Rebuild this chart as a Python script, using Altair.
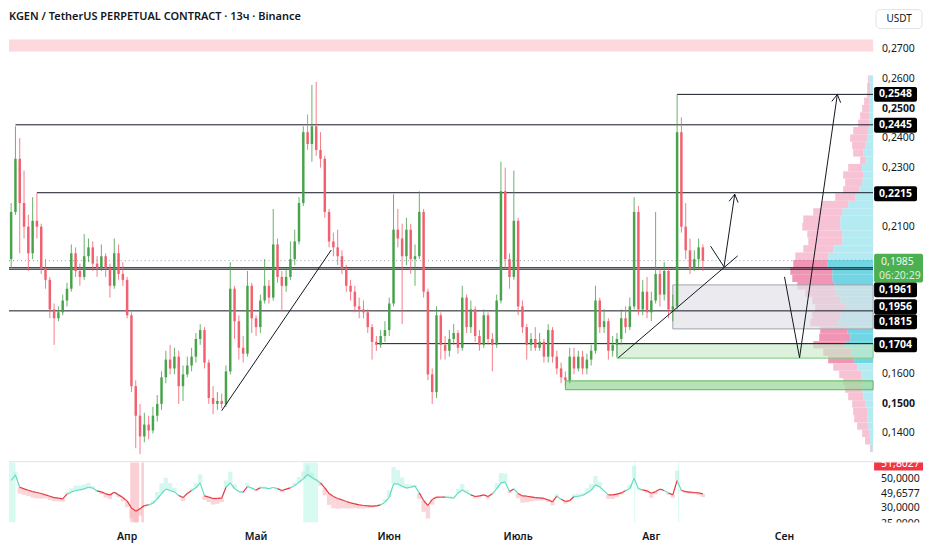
import math
import altair as alt
import pandas as pd

# ---------------------------------------------------------------- data
TITLE = "KGEN / TetherUS PERPETUAL CONTRACT · 13ч · Binance"
CURRENCY = "USDT"
REF_DATE = "2025-04-01"
FIRST_CANDLE = "2025-03-05"
FIRST_OPEN = 1990  # prices are x 10 000

CLOSE = [2150, 2330, 2180, 2100, 2010, 2120, 2100, 1960, 1920, 1820,
         1790, 1810, 1850, 1890, 2010, 1950, 1930, 2000, 2030, 1975,
         1960, 2000, 1960, 1900, 2010, 1940, 1920, 1800, 1560, 1460,
         1390, 1430, 1410, 1460, 1500, 1590, 1650, 1620, 1660, 1560,
         1600, 1630, 1660, 1720, 1750, 1640, 1520, 1500, 1510, 1500,
         1610, 1890, 1780, 1690, 1670, 1900, 1790, 1760, 1850, 1900,
         1860, 2040, 1930, 1900, 1930, 1990, 2050, 2180, 2420, 2380,
         2440, 2360, 2330, 2150, 2050, 2030, 2000, 1960, 1900, 1880,
         1830, 1820, 1810, 1760, 1710, 1700, 1730, 1750, 1840, 2090,
         2060, 2000, 2090, 1990, 2000, 2150, 1880, 1600, 1540, 1800,
         1700, 1680, 1720, 1740, 1690, 1860, 1760, 1820, 1730, 1700,
         1800, 1720, 1700, 1850, 2220, 1990, 1930, 2120, 1830, 1760,
         1700, 1720, 1690, 1710, 1660, 1750, 1660, 1620, 1590, 1580,
         1660, 1620, 1660, 1620, 1650, 1680, 1850, 1760, 1780, 1680,
         1700, 1720, 1790, 1760, 1830, 2150, 1820, 1880, 1810, 1850,
         1940, 1870, 1950, 1820, 1830, 2420, 2100, 2020, 1960, 1990,
         2030, 1985]
HIGH = [2180, 2440, 2400, 2290, 2140, 2200, 2215, 2110, 1990, 1930,
        1840, 1830, 1870, 1910, 2040, 2030, 1975, 2075, 2060, 2050,
        2000, 2040, 2010, 1975, 2060, 2040, 1980, 1930, 1810, 1580,
        1500, 1470, 1460, 1490, 1530, 1610, 1680, 1700, 1690, 1680,
        1630, 1660, 1690, 1740, 1770, 1760, 1650, 1560, 1540, 1535,
        1630, 1980, 1900, 1800, 1730, 1950, 1910, 1800, 1870, 1990,
        1920, 2160, 2060, 1950, 1960, 2050, 2090, 2200, 2440, 2480,
        2580, 2590, 2420, 2340, 2160, 2080, 2090, 2020, 1970, 1920,
        1900, 1860, 1850, 1820, 1770, 1730, 1750, 1780, 1860, 2210,
        2160, 2110, 2130, 2110, 2040, 2220, 2160, 1890, 1620, 1830,
        1810, 1730, 1750, 1770, 1750, 1900, 1870, 1850, 1830, 1750,
        1820, 1810, 1740, 1870, 2320, 2300, 2010, 2290, 2130, 1850,
        1770, 1740, 1760, 1740, 1720, 1770, 1760, 1680, 1640, 1610,
        1690, 1690, 1680, 1680, 1670, 1700, 1900, 1860, 1820, 1790,
        1730, 1740, 1820, 1830, 1860, 2200, 2170, 1920, 1930, 1880,
        2150, 1960, 1980, 1960, 1870, 2548, 2470, 2180, 2060, 2020,
        2060, 2040]
LOW = [1960, 2140, 2010, 2060, 1950, 1990, 2060, 1940, 1890, 1790,
       1700, 1780, 1800, 1830, 1880, 1930, 1900, 1920, 1980, 1950,
       1930, 1950, 1930, 1860, 1890, 1920, 1900, 1790, 1540, 1350,
       1330, 1370, 1380, 1400, 1440, 1480, 1570, 1600, 1600, 1500,
       1510, 1590, 1610, 1640, 1700, 1620, 1500, 1465, 1480, 1485,
       1490, 1600, 1720, 1650, 1640, 1660, 1740, 1730, 1740, 1840,
       1840, 1850, 1910, 1815, 1880, 1920, 1970, 2040, 2170, 2360,
       2320, 2340, 2300, 2130, 2030, 2000, 1970, 1940, 1880, 1850,
       1810, 1790, 1790, 1740, 1650, 1680, 1690, 1710, 1730, 1830,
       2030, 1770, 1970, 1940, 1900, 1990, 1860, 1580, 1500, 1520,
       1650, 1650, 1660, 1700, 1670, 1680, 1740, 1740, 1710, 1680,
       1690, 1700, 1610, 1690, 1840, 1960, 1890, 1920, 1800, 1740,
       1650, 1680, 1680, 1680, 1640, 1640, 1640, 1600, 1570, 1560,
       1570, 1600, 1610, 1600, 1600, 1630, 1670, 1740, 1740, 1650,
       1660, 1660, 1700, 1740, 1750, 1820, 1800, 1800, 1790, 1780,
       1840, 1830, 1850, 1790, 1780, 1820, 2080, 1990, 1940, 1950,
       1960, 1950]

# oscillator (lower pane), one value per candle
OSC = [48.7, 52.4, 44.2, 43.1, 42.2, 41.3, 40.7, 40.0, 39.1, 38.2,
       37.3, 36.9, 36.4, 39.6, 40.9, 42.0, 42.4, 43.1, 44.2, 43.6,
       41.8, 41.1, 39.8, 39.1, 40.9, 39.1, 37.3, 34.9, 30.4, 28.2,
       29.8, 32.0, 32.4, 33.5, 36.4, 40.0, 42.9, 42.0, 41.1, 38.7,
       37.3, 40.0, 42.0, 43.8, 47.1, 38.4, 37.6, 36.7, 36.7, 36.9,
       44.2, 47.1, 43.3, 41.3, 40.9, 44.7, 43.6, 42.4, 43.8, 43.8,
       43.3, 44.0, 43.3, 42.0, 42.9, 43.8, 45.3, 47.6, 49.8, 52.7,
       50.7, 49.1, 47.1, 43.8, 40.0, 38.0, 36.7, 35.8, 34.7, 33.8,
       33.1, 32.4, 32.0, 31.8, 31.6, 31.8, 32.4, 34.2, 37.6, 46.4,
       46.4, 44.9, 43.6, 44.2, 44.9, 40.4, 35.3, 32.0, 36.0, 37.6,
       37.6, 37.6, 37.3, 36.9, 40.4, 42.4, 40.7, 39.1, 38.0, 38.4,
       39.1, 38.0, 39.8, 43.1, 47.1, 47.6, 41.3, 43.1, 40.0, 38.4,
       38.2, 37.8, 37.3, 37.1, 36.7, 35.8, 34.4, 38.2, 36.2, 34.7,
       35.3, 37.8, 38.2, 38.7, 40.4, 42.2, 45.8, 44.4, 41.8, 39.1,
       39.1, 39.6, 40.4, 41.8, 43.3, 50.2, 43.1, 42.4, 41.8, 40.2,
       41.3, 42.9, 42.0, 40.4, 39.1, 48.7, 42.0, 41.3, 40.9, 40.7,
       40.4, 39.8]

# oscillator signal bands (start, end, kind)
BAND_FROM = ["2025-03-04T12:00", "2025-04-01T17:00", "2025-04-04T07:00",
             "2025-05-12T00:00", "2025-07-28T00:00", "2025-08-07T05:00"]
BAND_TO = ["2025-03-06T00:00", "2025-04-03T19:00", "2025-04-04T22:00",
           "2025-05-15T10:00", "2025-07-28T06:00", "2025-08-07T11:00"]
BAND_KIND = ["up", "down", "down", "up", "up", "up"]

MONTH_NAMES = ["Апр", "Май", "Июн", "Июль", "Авг", "Сен"]
MONTH_STARTS = ["2025-04-01", "2025-05-01", "2025-06-01",
                "2025-07-01", "2025-08-01", "2025-09-01"]

PRICE_TICKS = [0.27, 0.26, 0.25, 0.24, 0.23, 0.21, 0.16, 0.15, 0.14]
PRICE_TICKS_BOLD = [0.25, 0.15]

LEVEL_PRICES = [0.2548, 0.2445, 0.2215, 0.1961, 0.1956, 0.1815, 0.1704]
LEVEL_FROM = ["2025-08-07", "2025-03-06", "2025-03-11",
              "2025-03-01", "2025-03-01", "2025-03-01", "2025-05-29"]

LAST_PRICE = 0.1985
COUNTDOWN = "06:20:29"

TOP_BAND = [0.2693, 0.2734]
ZONE_TOP = [0.1903, 0.1704, 0.1578]
ZONE_BOTTOM = [0.1754, 0.1655, 0.1548]
ZONE_FROM = ["2025-08-06", "2025-07-24", "2025-07-12"]
ZONE_KIND = ["gray", "lightgreen", "green"]

TREND_LINES = [
    [("2025-04-23T00:00", 0.1477), ("2025-05-18T12:00", 0.2021)],
    [("2025-07-24T07:00", 0.1656), ("2025-08-21T02:00", 0.2001)],
]
ARROWS = [
    [("2025-08-14T19:00", 0.2034), ("2025-08-17T22:00", 0.1964), ("2025-08-20T10:00", 0.2210)],
    [("2025-09-01T00:00", 0.1930), ("2025-09-04T12:00", 0.1656), ("2025-09-13T07:00", 0.2548)],
]

# visible-range volume profile
PROFILE_PRICE = [0.2600, 0.2575, 0.2550, 0.2525, 0.2500, 0.2475, 0.2450, 0.2425,
                 0.2400, 0.2375, 0.2350, 0.2325, 0.2300, 0.2275, 0.2250, 0.2225,
                 0.2200, 0.2175, 0.2150, 0.2125, 0.2100, 0.2075, 0.2050, 0.2025,
                 0.2000, 0.1975, 0.1950, 0.1925, 0.1900, 0.1875, 0.1850, 0.1825,
                 0.1800, 0.1775, 0.1750, 0.1725, 0.1700, 0.1675, 0.1650, 0.1625,
                 0.1600, 0.1575, 0.1550, 0.1525, 0.1500, 0.1475, 0.1450, 0.1425,
                 0.1400, 0.1375, 0.1350]
PROFILE_UP = [4, 3, 3, 4, 4, 4, 4, 5, 6, 8, 10, 8, 11, 10, 11, 14, 18, 25, 31, 33,
              33, 31, 31, 40, 45, 46, 41, 41, 39, 37, 33, 28, 33, 35, 26, 23, 28, 22,
              19, 16, 12, 11, 11, 10, 8, 6, 6, 5, 4, 3, 1]
PROFILE_DOWN = [1, 3, 3, 5, 7, 9, 11, 15, 17, 13, 10, 5, 14, 20, 17, 16, 20, 27, 29,
                37, 38, 35, 34, 30, 33, 34, 42, 40, 37, 31, 28, 30, 28, 28, 27, 31, 32,
                28, 26, 24, 22, 19, 17, 15, 13, 14, 13, 11, 7, 5, 2]
VALUE_AREA = [0.1650, 0.1975]

OSC_LABELS = [51.8027, 50.0, 49.6577, 30.0, 25.0]

# ---------------------------------------------------------------- layout / style
W, H = 866, 514
XMIN, XMAX = -27.5, 173.62
YDOM = [0.10986, 0.28351]
IDOM = [20.667, 363.33]
PANEL = [20.7, 60.7]
PXD = W / (XMAX - XMIN)
PXP = H / (YDOM[1] - YDOM[0])
RIGHT = 50          # width of the right price-scale strip
FONT = "Noto Sans"
INK = "#131722"
GREEN = "#43a047"
RED = "#f25c6c"
TEAL = "#5fdcc0"
OSC_RED = "#e23a3f"
LABEL_SHIFT_PX = [0, 0.5, 1, 22, 37.5, 11, 1]
OSC_LABEL_SHIFT_PX = [-12, 0, 14.5, 0, 8.5]

ref = pd.Timestamp(REF_DATE)


def tday(s):
    return (pd.Timestamp(s) - ref) / pd.Timedelta(days=1)


def fmt(p, nd=4):
    return f"{p:.{nd}f}".replace(".", ",")


def X(f):
    return alt.X(f"{f}:Q", scale=alt.Scale(domain=[XMIN, XMAX], nice=False, zero=False), axis=None)


def Y(f):
    return alt.Y(f"{f}:Q", scale=alt.Scale(domain=YDOM, nice=False, zero=False), axis=None)


def YI(f):
    return alt.Y(f"{f}:Q", scale=alt.Scale(domain=IDOM, nice=False, zero=False), axis=None)


layers = []

# top pink band
band_df = pd.DataFrame({"x1": [XMIN], "x2": [XMAX], "y1": [TOP_BAND[0]], "y2": [TOP_BAND[1]]})
layers.append(alt.Chart(band_df).mark_rect(color="#fdd8dd").encode(
    x=X("x1"), x2="x2", y=Y("y1"), y2="y2"))

# volume profile
prof = pd.DataFrame({"p": PROFILE_PRICE, "up": PROFILE_UP, "down": PROFILE_DOWN})
prof["lo"] = prof.p - 0.00125
prof["hi"] = prof.p + 0.00125
prof["zero"] = 0
prof["tot"] = prof.up + prof.down
prof["va"] = (prof.p >= VALUE_AREA[0]) & (prof.p <= VALUE_AREA[1])
PX = alt.Scale(domain=[0, W], reverse=True, nice=False, zero=False)
va_test = "datum.va"
layers.append(alt.Chart(prof).mark_rect().encode(
    x=alt.X("zero:Q", scale=PX, axis=None), x2="up",
    y=Y("lo"), y2="hi",
    color=alt.condition(va_test, alt.value("#72d5e4"), alt.value("#b4ebf2"))))
layers.append(alt.Chart(prof).mark_rect().encode(
    x=alt.X("up:Q", scale=PX, axis=None), x2="tot",
    y=Y("lo"), y2="hi",
    color=alt.condition(va_test, alt.value("#f095b4"), alt.value("#f8c2d5"))))

# zones
zones = pd.DataFrame({"x1": [tday(s) for s in ZONE_FROM], "x2": XMAX,
                      "y1": ZONE_TOP, "y2": ZONE_BOTTOM, "kind": ZONE_KIND})
zone_fill = {"gray": ("#e4e4ea", "#a3a3ab", 0.75), "lightgreen": ("#cdeccd", "#7cc77c", 0.7),
             "green": ("#9fd79f", "#5cb85c", 0.75)}
for k, (fc, sc, op) in zone_fill.items():
    layers.append(alt.Chart(zones).transform_filter(f"datum.kind == '{k}'").mark_rect(
        fill=fc, stroke=sc, strokeWidth=1, fillOpacity=op).encode(
        x=X("x1"), x2="x2", y=Y("y1"), y2="y2"))

# horizontal levels
lv = pd.DataFrame({"x1": [tday(s) for s in LEVEL_FROM], "x2": XMAX, "p": LEVEL_PRICES})
layers.append(alt.Chart(lv).mark_rule(color=INK, strokeWidth=1, clip=True).encode(
    x=X("x1"), x2="x2", y=Y("p")))

# last price dotted line
lp = pd.DataFrame({"x1": [XMIN], "x2": [XMAX], "p": [LAST_PRICE]})
layers.append(alt.Chart(lp).mark_rule(color="#9598a1", strokeWidth=1, strokeDash=[1, 3]).encode(
    x=X("x1"), x2="x2", y=Y("p")))

# candles
n = min(len(CLOSE), len(HIGH), len(LOW))
dates = pd.date_range(FIRST_CANDLE, periods=n, freq="D")
t = [(d - ref) / pd.Timedelta(days=1) for d in dates]
opens = [FIRST_OPEN] + CLOSE[:n - 1]
cd = pd.DataFrame({"t": t, "o": [v / 1e4 for v in opens], "h": [v / 1e4 for v in HIGH[:n]],
                   "l": [v / 1e4 for v in LOW[:n]], "c": [v / 1e4 for v in CLOSE[:n]]})
cd["b1"] = cd[["o", "c"]].max(axis=1)
cd["b2"] = cd[["o", "c"]].min(axis=1)
thin = (cd.b1 - cd.b2) < 0.0004
cd.loc[thin, "b1"] = cd.loc[thin, "b1"] + 0.0002
cd.loc[thin, "b2"] = cd.loc[thin, "b2"] - 0.0002
cd["x1"] = cd.t - 0.29
cd["x2"] = cd.t + 0.29
ccol = alt.condition("datum.c >= datum.o", alt.value(GREEN), alt.value(RED))
layers.append(alt.Chart(cd).mark_rule(strokeWidth=1, opacity=0.8).encode(
    x=X("t"), y=Y("l"), y2="h", color=ccol))
layers.append(alt.Chart(cd).mark_rect(opacity=0.95).encode(
    x=X("x1"), x2="x2", y=Y("b1"), y2="b2", color=ccol))

# trend lines and arrows
segs = []
for line in TREND_LINES + ARROWS:
    for (s1, p1), (s2, p2) in zip(line[:-1], line[1:]):
        segs.append({"t1": tday(s1), "p1": p1, "t2": tday(s2), "p2": p2})
for line in ARROWS:
    (s1, p1), (s2, p2) = line[-2], line[-1]
    x1, y1 = (tday(s1) - XMIN) * PXD, (YDOM[1] - p1) * PXP
    x2, y2 = (tday(s2) - XMIN) * PXD, (YDOM[1] - p2) * PXP
    L = math.hypot(x2 - x1, y2 - y1)
    ux, uy = (x1 - x2) / L, (y1 - y2) / L
    for ang in (math.radians(30), -math.radians(30)):
        wx = x2 + 9 * (ux * math.cos(ang) - uy * math.sin(ang))
        wy = y2 + 9 * (ux * math.sin(ang) + uy * math.cos(ang))
        segs.append({"t1": tday(s2), "p1": p2, "t2": wx / PXD + XMIN, "p2": YDOM[1] - wy / PXP})
seg_df = pd.DataFrame(segs)
layers.append(alt.Chart(seg_df).mark_rule(color=INK, strokeWidth=1).encode(
    x=X("t1"), x2="t2", y=Y("p1"), y2="p2"))

# ---------------- oscillator pane
sep = pd.DataFrame({"a": [0]})
layers.append(alt.Chart(sep).mark_rule(color="#e0e3eb", strokeWidth=1).encode(
    x=alt.value(0), x2=alt.value(W + RIGHT), y=alt.value(453)))
bands = pd.DataFrame({"x1": [tday(s) for s in BAND_FROM], "x2": [tday(s) for s in BAND_TO],
                      "kind": BAND_KIND, "y1": PANEL[0], "y2": PANEL[1]})
layers.append(alt.Chart(bands).mark_rect(clip=True, opacity=0.55).encode(
    x=X("x1"), x2="x2", y=YI("y1"), y2="y2",
    color=alt.condition("datum.kind == 'up'", alt.value("#b6f5e6"), alt.value("#f7a9b0"))))

m = min(n, len(OSC))
od = pd.DataFrame({"t": t[:m], "v": OSC[:m]})
obase = alt.Chart(od).transform_window(
    ma="mean(v)", frame=[-6, 0], sort=[alt.SortField("t")]
).transform_calculate(edge="2*datum.v - datum.ma", x1="datum.t - 0.5", x2="datum.t + 0.5")
ocol_fill = alt.condition("datum.v >= datum.ma", alt.value("#aef0df"), alt.value("#f6aeb6"))
layers.append(obase.mark_rect(opacity=0.5).encode(
    x=X("x1"), x2="x2", y=YI("v"), y2="edge", color=ocol_fill))
ocol = alt.condition("datum.v >= datum.ma", alt.value(TEAL), alt.value(OSC_RED))
layers.append(obase.transform_window(
    v2="lead(v)", t2="lead(t)", sort=[alt.SortField("t")]
).transform_filter("isValid(datum.t2)").mark_rule(strokeWidth=1.2).encode(
    x=X("t"), x2="t2", y=YI("v"), y2="v2", color=ocol))

# ---------------- right price scale labels
ticks = pd.DataFrame({"p": PRICE_TICKS, "label": [fmt(p) for p in PRICE_TICKS]})
ticks["bold"] = ticks.p.isin(PRICE_TICKS_BOLD)
for bold in (False, True):
    layers.append(alt.Chart(ticks).transform_filter(
        "datum.bold" if bold else "!datum.bold").mark_text(
        align="left", baseline="middle", font=FONT, fontSize=10.5,
        fontWeight="bold" if bold else "normal", color=INK).encode(
        x=alt.value(W + 9), y=Y("p"), text="label:N"))

lab = pd.DataFrame({"p": LEVEL_PRICES, "label": [fmt(p) for p in LEVEL_PRICES]})
lab["pc"] = [p - s / PXP for p, s in zip(LEVEL_PRICES, LABEL_SHIFT_PX)]
lab["top"] = lab.pc + 7.5 / PXP
lab["bot"] = lab.pc - 7.5 / PXP
layers.append(alt.Chart(lab).mark_rect(color="#000000", cornerRadius=2).encode(
    x=alt.value(W + 1), x2=alt.value(W + 44), y=Y("top"), y2="bot"))
layers.append(alt.Chart(lab).mark_text(
    align="center", baseline="middle", font=FONT, fontSize=10.5, fontWeight="bold",
    color="#ffffff").encode(x=alt.value(W + 22.5), y=Y("pc"), text="label:N"))

lastdf = pd.DataFrame({"p": [LAST_PRICE], "label": [fmt(LAST_PRICE)], "cd": [COUNTDOWN]})
lastdf["top"] = lastdf.p + 7 / PXP
lastdf["bot"] = lastdf.p - 22 / PXP
layers.append(alt.Chart(lastdf).mark_rect(color="#4caf50", cornerRadius=2).encode(
    x=alt.value(W + 1), x2=alt.value(W + RIGHT), y=Y("top"), y2="bot"))
layers.append(alt.Chart(lastdf).mark_text(
    align="left", baseline="middle", font=FONT, fontSize=10.5, color="#f1f8f1", dy=1).encode(
    x=alt.value(W + 8), y=Y("p"), text="label:N"))
layers.append(alt.Chart(lastdf).mark_text(
    align="left", baseline="middle", font=FONT, fontSize=10.5, color="#dff0df", dy=15).encode(
    x=alt.value(W + 6), y=Y("p"), text="cd:N"))

# oscillator scale labels
first = pd.DataFrame({"v": [OSC_LABELS[0]], "label": [fmt(OSC_LABELS[0])]})
layers.append(alt.Chart(first).mark_rect(color="#f23645").encode(
    x=alt.value(W + 1), x2=alt.value(W + RIGHT), y=alt.value(454), y2=alt.value(462)))
for v, s in zip(OSC_LABELS, OSC_LABEL_SHIFT_PX):
    d = pd.DataFrame({"v": [v], "label": [fmt(v)]})
    layers.append(alt.Chart(d).mark_text(
        align="left", baseline="middle", font=FONT, fontSize=10.5, dy=s,
        color="#ffffff" if v == OSC_LABELS[0] else INK).encode(
        x=alt.value(W + 8), y=YI("v"), text="label:N"))
layers.append(alt.Chart(sep).mark_rect(color="#ffffff").encode(
    x=alt.value(W + 1), x2=alt.value(W + RIGHT), y=alt.value(444), y2=alt.value(453)))
layers.append(alt.Chart(sep).mark_rect(color="#ffffff").encode(
    x=alt.value(W + 1), x2=alt.value(W + RIGHT), y=alt.value(514), y2=alt.value(522)))

# month labels
months = pd.DataFrame({"t": [tday(s) for s in MONTH_STARTS], "label": MONTH_NAMES})
layers.append(alt.Chart(months).mark_text(
    align="center", baseline="middle", font=FONT, fontSize=10.5, fontWeight=600, color=INK).encode(
    x=X("t"), y=alt.value(529), text="label:N"))

# title and currency box
hdr = pd.DataFrame({"title": [TITLE], "cur": [CURRENCY]})
layers.append(alt.Chart(hdr).mark_text(
    align="left", baseline="middle", font=FONT, fontSize=11, fontWeight=600, color=INK).encode(
    x=alt.value(0), y=alt.value(7), text="title:N"))
layers.append(alt.Chart(hdr).mark_rect(fill="#ffffff", stroke="#e0e3eb", cornerRadius=4).encode(
    x=alt.value(W + 3), x2=alt.value(W + RIGHT - 1), y=alt.value(0), y2=alt.value(19)))
layers.append(alt.Chart(hdr).mark_text(
    align="center", baseline="middle", font=FONT, fontSize=10, color=INK).encode(
    x=alt.value(W + 26), y=alt.value(9), text="cur:N"))

chart = alt.layer(*layers).resolve_scale(
    x="independent", y="independent"
).properties(width=W, height=H, padding=0).configure_view(stroke=None)

chart.save("out.html", embed_options={"renderer": "svg", "actions": False})
